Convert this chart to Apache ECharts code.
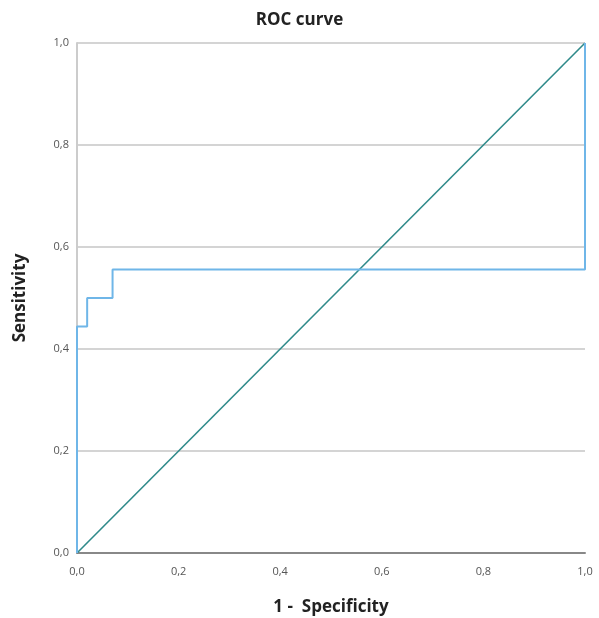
<!DOCTYPE html>
<html><head><meta charset="utf-8">
<script src="https://cdn.jsdelivr.net/npm/echarts@6/dist/echarts.min.js"></script>
<style>html,body{margin:0;padding:0;background:#fff}#c{width:599px;height:618px}</style>
</head><body><div id="c"></div>
<script>
const fpr = [0, 0, 0.02, 0.02, 0.07, 0.07, 1.0, 1.0];
const tpr = [0, 0.444, 0.444, 0.5, 0.5, 0.556, 0.556, 1.0];
const refX = [0, 1];
const refY = [0, 1];
const fmt = v => v.toFixed(1).replace('.', ',');
const chart = echarts.init(document.getElementById('c'));
chart.setOption({
  animation: false,
  title: { text: 'ROC curve', left: 'center', top: 7,
    textStyle: { fontFamily: 'Open Sans', fontWeight: 'bold', fontSize: 17, color: '#222' } },
  grid: { left: 77, right: 14, top: 43, bottom: 65, outerBoundsMode: 'none', containLabel: false },
  xAxis: { type: 'value', min: 0, max: 1, interval: 0.2,
    name: '1 -  Specificity', nameLocation: 'middle', nameGap: 46,
    nameTextStyle: { fontFamily: 'Open Sans', fontWeight: 'bold', fontSize: 17, color: '#222' },
    axisLine: { show: true, lineStyle: { color: '#888', width: 2 } },
    axisTick: { show: false }, splitLine: { show: false },
    axisLabel: { formatter: fmt, fontFamily: 'Open Sans', fontSize: 11, color: '#555', margin: 13 } },
  yAxis: { type: 'value', min: 0, max: 1, interval: 0.2,
    name: 'Sensitivity', nameLocation: 'middle', nameGap: 48,
    nameTextStyle: { fontFamily: 'Open Sans', fontWeight: 'bold', fontSize: 17, color: '#222' },
    axisLine: { show: true, lineStyle: { color: '#ccc', width: 2 } },
    axisTick: { show: false },
    splitLine: { show: true, lineStyle: { color: '#d4d4d4', width: 2 } },
    axisLabel: { formatter: fmt, fontFamily: 'Open Sans', fontSize: 11, color: '#555', margin: 8 } },
  series: [
    { type: 'line', data: refX.map((x, i) => [x, refY[i]]), symbol: 'none',
      lineStyle: { color: '#2f8a8a', width: 1.6 }, z: 3 },
    { type: 'line', data: fpr.map((x, i) => [x, tpr[i]]), symbol: 'none',
      lineStyle: { color: '#6fb6e8', width: 2 }, z: 4 }
  ]
});
</script></body></html>
